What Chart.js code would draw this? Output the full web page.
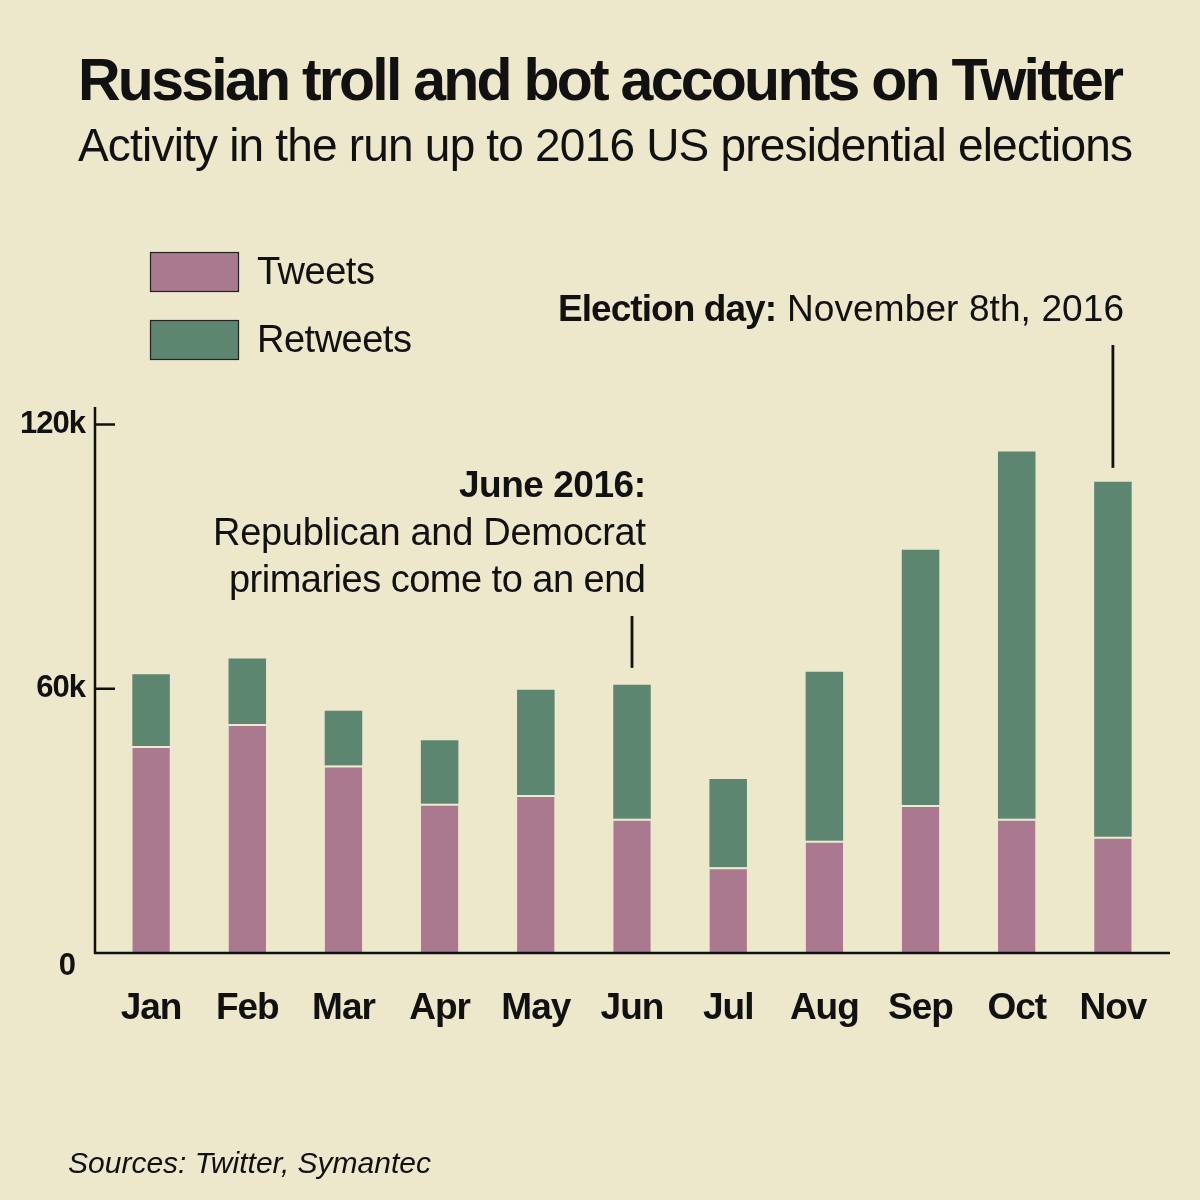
<!DOCTYPE html>
<html>
<head>
<meta charset="utf-8">
<script src="https://cdn.jsdelivr.net/npm/chart.js@4.4.1/dist/chart.umd.min.js"></script>
<style>
  html, body { margin: 0; padding: 0; background: #ede7cb; }
  canvas { display: block; }
</style>
</head>
<body>
<canvas id="c" width="1200" height="1200"></canvas>
<script>
const months = ['Jan', 'Feb', 'Mar', 'Apr', 'May', 'Jun', 'Jul', 'Aug', 'Sep', 'Oct', 'Nov'];
const tweets = [47000, 52000, 42600, 33900, 35900, 30500, 19500, 25500, 33600, 30500, 26400];
const retweets = [16300, 14900, 12400, 14400, 23900, 30400, 20000, 38400, 58000, 83400, 80600];
const yTickValues = [0, 60000, 120000];
const seriesNames = ['Tweets', 'Retweets'];

const BG = '#ede7cb';
const PINK = '#a8798f';
const GREEN = '#5c866f';
const INK = '#111111';
const FONT = '"Liberation Sans", Arial, Helvetica, sans-serif';

function fmtTick(v) { return v === 0 ? '' : (v / 1000) + 'k'; }

function fitText(ctx, text, x, y, font, width, align) {
  ctx.font = font;
  ctx.letterSpacing = '0px';
  const w = ctx.measureText(text).width;
  const ls = text.length > 1 ? (width - w) / (text.length - 1) : 0;
  ctx.letterSpacing = ls + 'px';
  ctx.textAlign = 'left';
  const left = align === 'right' ? x - width : x;
  ctx.fillText(text, left, y);
  ctx.letterSpacing = '0px';
}

const decor = {
  id: 'decor',
  beforeDraw(chart) {
    const ctx = chart.ctx;
    ctx.save();
    ctx.fillStyle = BG;
    ctx.fillRect(0, 0, chart.width, chart.height);
    ctx.restore();
    ctx.letterSpacing = '-1px';
  },
  afterDraw(chart) {
    const ctx = chart.ctx;
    const x = chart.scales.x, y = chart.scales.y;
    const area = chart.chartArea;
    ctx.save();
    ctx.letterSpacing = '0px';
    ctx.fillStyle = INK;
    ctx.strokeStyle = INK;
    ctx.textBaseline = 'alphabetic';

    // axes
    const zeroY = y.getPixelForValue(0);
    const axX = area.left - 8;
    ctx.lineWidth = 2.5;
    ctx.beginPath();
    ctx.moveTo(axX, area.top);
    ctx.lineTo(axX, zeroY + 1);
    ctx.moveTo(axX - 1, zeroY);
    ctx.lineTo(area.right + 9, zeroY);
    yTickValues.filter(v => v > 0).forEach(v => {
      const py = y.getPixelForValue(v);
      ctx.moveTo(axX, py);
      ctx.lineTo(axX + 20, py);
    });
    ctx.stroke();

    // zero label sits a little below the baseline, as in the original
    ctx.font = 'bold 31px ' + FONT;
    ctx.textAlign = 'right';
    ctx.textBaseline = 'middle';
    ctx.fillText(String(yTickValues[0]), 76, zeroY + 13);
    ctx.textBaseline = 'alphabetic';

    // title & subtitle
    ctx.fillStyle = INK;
    fitText(ctx, 'Russian troll and bot accounts on Twitter', 78, 100, 'bold 59px ' + FONT, 1046, 'left');
    fitText(ctx, 'Activity in the run up to 2016 US presidential elections', 78, 161, '46px ' + FONT, 1055, 'left');

    // legend
    const sw = [[252, PINK], [320, GREEN]];
    chart.data.datasets.forEach((ds, i) => {
      const top = sw[i][0];
      ctx.fillStyle = ds.backgroundColor;
      ctx.fillRect(150, top, 89, 40);
      ctx.lineWidth = 1.2;
      ctx.strokeStyle = '#222';
      ctx.strokeRect(150.5, top + 0.5, 88, 39);
      ctx.fillStyle = INK;
      ctx.font = '38px ' + FONT;
      ctx.textAlign = 'left';
      ctx.textBaseline = 'middle';
      ctx.letterSpacing = '-0.5px';
      ctx.fillText(ds.label, 257, top + 22);
      ctx.letterSpacing = '0px';
    });
    ctx.textBaseline = 'alphabetic';

    // Election day annotation
    fitText(ctx, 'Election day:', 558, 321, 'bold 37px ' + FONT, 219, 'left');
    fitText(ctx, 'November 8th, 2016', 1124, 321, '37px ' + FONT, 337, 'right');
    const nx = x.getPixelForValue(10);
    const nTop = y.getPixelForValue(tweets[10] + retweets[10]);
    ctx.lineWidth = 2.8;
    ctx.strokeStyle = INK;
    ctx.beginPath();
    ctx.moveTo(nx, 345);
    ctx.lineTo(nx, nTop - 14);
    ctx.stroke();

    // June annotation
    fitText(ctx, 'June 2016:', 646, 497, 'bold 37px ' + FONT, 187, 'right');
    fitText(ctx, 'Republican and Democrat', 646, 545, '38px ' + FONT, 433, 'right');
    fitText(ctx, 'primaries come to an end', 646, 592, '38px ' + FONT, 417, 'right');
    const jx = x.getPixelForValue(5);
    const jTop = y.getPixelForValue(tweets[5] + retweets[5]);
    ctx.beginPath();
    ctx.moveTo(jx, 616);
    ctx.lineTo(jx, jTop - 17);
    ctx.stroke();

    // source
    fitText(ctx, 'Sources: Twitter, Symantec', 68, 1173, 'italic 30px ' + FONT, 363, 'left');
    ctx.restore();
  }
};

new Chart(document.getElementById('c'), {
  type: 'bar',
  data: {
    labels: months,
    datasets: [
      {
        label: seriesNames[0],
        data: tweets,
        backgroundColor: PINK,
        borderColor: '#f1ead2',
        borderWidth: { top: 2, left: 0, right: 0, bottom: 0 },
        borderSkipped: 'start'
      },
      {
        label: seriesNames[1],
        data: retweets,
        backgroundColor: GREEN,
        borderWidth: 0
      }
    ]
  },
  options: {
    responsive: false,
    animation: false,
    devicePixelRatio: 1,
    layout: { padding: { top: 407, right: 39, left: 0, bottom: 0 } },
    datasets: { bar: { categoryPercentage: 1, barPercentage: 0.39 } },
    plugins: {
      legend: { display: false },
      title: { display: false },
      tooltip: { enabled: false }
    },
    scales: {
      x: {
        stacked: true,
        offset: true,
        grid: { display: false },
        border: { display: false },
        ticks: {
          color: INK,
          font: { family: FONT, size: 37, weight: 'bold' },
          padding: 26,
          maxRotation: 0,
          autoSkip: false
        },
        afterFit(s) { s.height = 247; }
      },
      y: {
        stacked: true,
        min: 0,
        max: 124000,
        afterBuildTicks(s) { s.ticks = yTickValues.map(v => ({ value: v })); },
        grid: { display: false },
        border: { display: false },
        ticks: {
          color: INK,
          font: { family: FONT, size: 31, weight: 'bold' },
          padding: 10,
          callback: v => fmtTick(v)
        },
        afterFit(s) { s.width = 103; }
      }
    }
  },
  plugins: [decor]
});
</script>
</body>
</html>
